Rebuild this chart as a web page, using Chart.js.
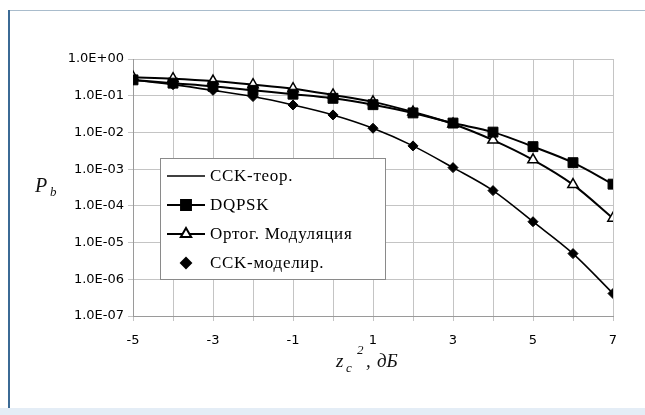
<!DOCTYPE html>
<html>
<head>
<meta charset="utf-8">
<script src="https://cdn.jsdelivr.net/npm/chart.js@4/dist/chart.umd.min.js"></script>
<style>
    body { margin: 0; background: #fff; }
    #wrap { position: relative; width: 645px; height: 415px; overflow: hidden; }
    #frameTop { position: absolute; left: 9px; top: 10px; width: 636px; height: 0; border-top: 1px solid #a9bccc; }
    #frameLeft { position: absolute; left: 8px; top: 10px; width: 0; height: 405px; border-left: 2px solid #3b6a95; }
    #band { position: absolute; left: 0; top: 408px; width: 645px; height: 7px; background: #e4edf6; }
    canvas { position: absolute; left: 0; top: 0; }
</style>
</head>
<body>
<div id="wrap">
    <div id="frameTop"></div>
    <div id="frameLeft"></div>
    <div id="band"></div>
    <canvas id="berChart" width="645" height="415"></canvas>
</div>
<script>
// SNR values, dB
const snrDb = [-5, -4, -3, -2, -1, 0, 1, 2, 3, 4, 5, 6, 7];

// bit error probability
const cckTheory = [0.27, 0.2, 0.14, 0.095, 0.056, 0.03, 0.013, 0.0043, 0.0011, 0.00026, 0.000037, 0.000005, 0.00000041];
const dqpsk = [0.27, 0.22, 0.18, 0.14, 0.11, 0.085, 0.057, 0.034, 0.018, 0.0102, 0.0041, 0.0015, 0.00039];
const orthMod = [0.32, 0.29, 0.25, 0.2, 0.155, 0.105, 0.068, 0.036, 0.017, 0.0062, 0.0018, 0.00038, 0.000046];
const cckSim = [0.27, 0.2, 0.14, 0.095, 0.056, 0.03, 0.013, 0.0043, 0.0011, 0.00026, 0.000037, 0.000005, 0.00000041];

const seriesNames = ['CCK-теор.', 'DQPSK', 'Ортог. Модуляция', 'CCK-моделир.'];

// axis ticks
const yTickValues = [1e-7, 1e-6, 1e-5, 1e-4, 1e-3, 1e-2, 1e-1, 1];
const yTickLabels = ['1.0E-07', '1.0E-06', '1.0E-05', '1.0E-04', '1.0E-03', '1.0E-02', '1.0E-01', '1.0E+00'];
const xTickLabels = ['-5', '-3', '-1', '1', '3', '5', '7'];

function toPoints(values) {
    return snrDb.map((x, i) => ({ x: x, y: values[i] }));
}

// legend box drawn inside the plot, over the lines
const innerLegend = {
    id: 'innerLegend',
    afterDatasetsDraw(chart) {
        const ctx = chart.ctx;
        const area = chart.chartArea;
        const left = area.left + 27, top = area.top + 99;
        const w = 225, h = 121;
        ctx.save();
        ctx.fillStyle = '#fff';
        ctx.fillRect(left, top, w, h);
        ctx.strokeStyle = '#8a8a8a';
        ctx.lineWidth = 1;
        ctx.strokeRect(left + 0.5, top + 0.5, w, h);

        chart.data.datasets.forEach((ds, i) => {
            const cy = top + 18 + i * 29;
            const x0 = left + 7, x1 = left + 45, cx = (x0 + x1) / 2;
            if (ds.showLine !== false) {
                ctx.strokeStyle = ds.borderColor;
                ctx.lineWidth = ds.borderWidth;
                ctx.beginPath();
                ctx.moveTo(x0, cy);
                ctx.lineTo(x1, cy);
                ctx.stroke();
            }
            if (ds.pointRadius > 0) {
                ctx.fillStyle = ds.pointBackgroundColor;
                ctx.strokeStyle = ds.pointBorderColor;
                Chart.helpers.drawPoint(ctx, {
                    pointStyle: ds.pointStyle,
                    radius: ds.pointRadius,
                    borderWidth: ds.pointBorderWidth,
                    rotation: 0
                }, cx, cy);
            }
            ctx.fillStyle = '#000';
            ctx.font = '17px "Liberation Serif", "Times New Roman", serif';
            ctx.letterSpacing = '0.7px';
            ctx.textBaseline = 'middle';
            ctx.textAlign = 'left';
            ctx.fillText(seriesNames[i], left + 50, cy + 1);
        });
        ctx.restore();
    }
};

// axis titles with sub/superscripts
const axisTitles = {
    id: 'axisTitles',
    afterDraw(chart) {
        const ctx = chart.ctx;
        ctx.save();
        ctx.fillStyle = '#111';
        ctx.textBaseline = 'alphabetic';
        ctx.textAlign = 'left';
        const serif = '"Liberation Serif", "Times New Roman", serif';

        // P_b
        ctx.font = 'italic 20px ' + serif;
        ctx.fillText('P', 35, 192);
        ctx.font = 'italic 13px ' + serif;
        ctx.fillText('b', 50, 196);

        // z_c^2, дБ
        ctx.font = 'italic 19px ' + serif;
        ctx.fillText('z', 336, 367);
        ctx.font = 'italic 13px ' + serif;
        ctx.fillText('c', 346, 372);
        ctx.fillText('2', 357, 354);
        ctx.font = 'italic 19px ' + serif;
        ctx.fillText(',', 366, 367);
        ctx.fillText('дБ', 377, 367);
        ctx.restore();
    }
};

document.addEventListener('DOMContentLoaded', () => {
    const ctx = document.getElementById('berChart').getContext('2d');
    const tickFont = { family: '"DejaVu Sans", Arial, sans-serif', size: 13 };

    new Chart(ctx, {
        type: 'scatter',
        data: {
            datasets: [
                {
                    label: seriesNames[0],
                    data: toPoints(cckTheory),
                    showLine: true,
                    borderColor: '#000',
                    borderWidth: 1.6,
                    pointRadius: 0,
                    cubicInterpolationMode: 'monotone'
                },
                {
                    label: seriesNames[1],
                    data: toPoints(dqpsk),
                    showLine: true,
                    borderColor: '#000',
                    borderWidth: 2,
                    pointStyle: 'rect',
                    pointRadius: 7,
                    pointBorderWidth: 1,
                    pointBackgroundColor: '#000',
                    pointBorderColor: '#000',
                    cubicInterpolationMode: 'monotone'
                },
                {
                    label: seriesNames[2],
                    data: toPoints(orthMod),
                    showLine: true,
                    borderColor: '#000',
                    borderWidth: 2,
                    pointStyle: 'triangle',
                    pointRadius: 6,
                    pointBorderWidth: 1.5,
                    pointBackgroundColor: '#fff',
                    pointBorderColor: '#000',
                    cubicInterpolationMode: 'monotone'
                },
                {
                    label: seriesNames[3],
                    data: toPoints(cckSim),
                    showLine: false,
                    borderColor: '#000',
                    borderWidth: 1,
                    pointStyle: 'rectRot',
                    pointRadius: 5,
                    pointBorderWidth: 1,
                    pointBackgroundColor: '#000',
                    pointBorderColor: '#000'
                }
            ]
        },
        options: {
            responsive: false,
            animation: false,
            layout: { padding: { top: 59, right: 32, left: 0, bottom: 69 } },
            plugins: {
                legend: { display: false },
                tooltip: { enabled: false }
            },
            scales: {
                x: {
                    type: 'linear',
                    min: -5,
                    max: 7,
                    afterFit: (scale) => { scale.height = 30; },
                    ticks: {
                        stepSize: 1,
                        autoSkip: false,
                        maxRotation: 0,
                        padding: 12,
                        color: '#000',
                        font: tickFont,
                        callback: (v) => xTickLabels.includes(String(v)) ? String(v) : ''
                    },
                    grid: { color: '#c4c4c4', tickLength: 5 },
                    border: { color: '#9a9a9a' }
                },
                y: {
                    type: 'logarithmic',
                    min: 1e-7,
                    max: 1,
                    afterFit: (scale) => { scale.width = 133; },
                    afterBuildTicks: (scale) => {
                        scale.ticks = yTickValues.map(v => ({ value: v }));
                    },
                    ticks: {
                        padding: 4,
                        color: '#000',
                        font: tickFont,
                        callback: (v, i) => yTickLabels[i]
                    },
                    grid: { color: '#c4c4c4', tickLength: 5 },
                    border: { color: '#9a9a9a' }
                }
            }
        },
        plugins: [innerLegend, axisTitles]
    });
});
</script>
</body>
</html>
